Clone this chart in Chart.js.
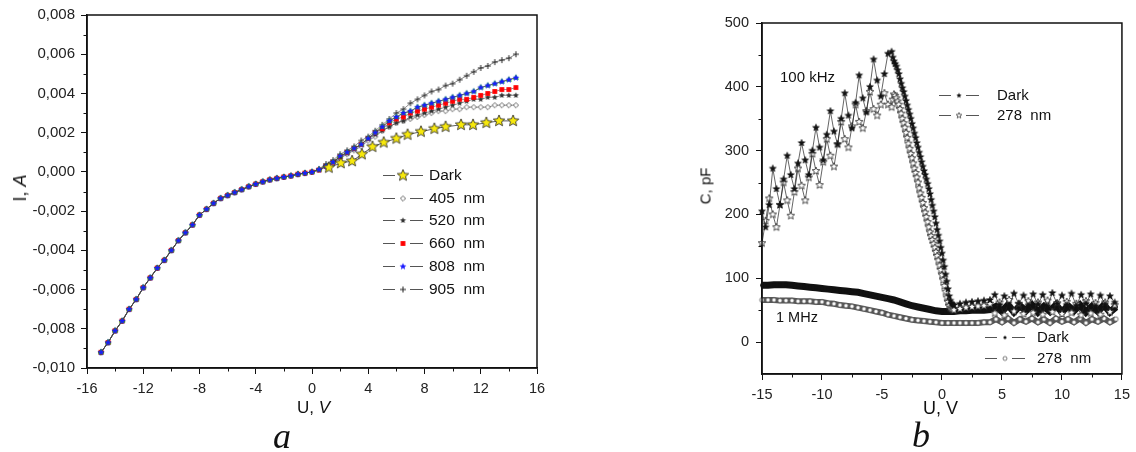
<!DOCTYPE html>
<html>
<head>
<meta charset="utf-8">
<script src="https://cdn.jsdelivr.net/npm/chart.js@4.4.1/dist/chart.umd.min.js"></script>
<style>
html, body { margin: 0; padding: 0; background: #fff; }
body { width: 1136px; height: 452px; position: relative; overflow: hidden; font-family: "Liberation Sans", Arial, sans-serif; }
.box { position: absolute; top: 0; height: 452px; }
.lbl { position: absolute; color: #111; white-space: nowrap; line-height: 1; }
.r { transform: translate(-50%, -50%) rotate(-90deg); }
.fig { font: italic 36px "Liberation Serif", "DejaVu Serif", serif; line-height: 36px; }
</style>
</head>
<body>
<div class="box" style="left:0;width:560px"><canvas id="chartA"></canvas></div>
<div class="box" style="left:690px;width:446px"><canvas id="chartB"></canvas></div>

<div class="lbl r" style="left:20px;top:188px;font-size:18px">I, <i>A</i></div>
<div class="lbl" style="left:297px;top:399px;font-size:17px">U, <i>V</i></div>
<div class="lbl fig" style="left:273px;top:418px">a</div>

<div class="lbl r" style="left:705px;top:186px;font-size:15px">C, pF</div>
<div class="lbl" style="left:923px;top:399px;font-size:18px">U, V</div>
<div class="lbl fig" style="left:912px;top:417px">b</div>
<div class="lbl" style="left:780px;top:69px;font-size:15px">100 kHz</div>
<div class="lbl" style="left:776px;top:310px;font-size:14.5px">1 MHz</div>

<script>
Chart.defaults.font.family = '"Liberation Sans", Arial, sans-serif';
Chart.defaults.color = '#222';

// ---- a: I-V curves ----
const uNeg = [-15, -14.5, -14, -13.5, -13, -12.5, -12, -11.5, -11, -10.5, -10, -9.5, -9, -8.5, -8, -7.5, -7, -6.5, -6, -5.5, -5, -4.5, -4, -3.5, -3, -2.5, -2, -1.5, -1, -0.5];
const uPos = [0, 0.5, 1, 1.5, 2, 2.5, 3, 3.5, 4, 4.5, 5, 5.5, 6, 6.5, 7, 7.5, 8, 8.5, 9, 9.5, 10, 10.5, 11, 11.5, 12, 12.5, 13, 13.5, 14, 14.5];
// all curves coincide in reverse bias
const iNeg = [-0.0092, -0.0087, -0.0081, -0.0076, -0.0070, -0.0065, -0.0059, -0.0054, -0.0049, -0.0045, -0.0040, -0.0035, -0.0031, -0.0027, -0.0022, -0.0019, -0.0016, -0.00135, -0.0012, -0.00105, -0.0009, -0.00075, -0.00062, -0.0005, -0.0004, -0.00033, -0.00026, -0.0002, -0.00012, -0.00006];
const i405 = [0, 0.0001, 0.00025, 0.00045, 0.0007, 0.0009, 0.0011, 0.0013, 0.0016, 0.0018, 0.0021, 0.0023, 0.0025, 0.0026, 0.0027, 0.0028, 0.0029, 0.0030, 0.0031, 0.0031, 0.0032, 0.0032, 0.0033, 0.0033, 0.0033, 0.0033, 0.0034, 0.0034, 0.0034, 0.0034];
const i520 = [0, 0.0001, 0.00028, 0.0005, 0.00075, 0.00095, 0.00115, 0.0014, 0.0017, 0.0019, 0.0021, 0.0023, 0.0025, 0.0026, 0.0028, 0.0029, 0.0030, 0.0031, 0.0032, 0.0033, 0.0034, 0.0035, 0.0036, 0.0037, 0.0037, 0.0038, 0.0038, 0.0039, 0.0039, 0.0039];
const i660 = [0, 0.0001, 0.0003, 0.0005, 0.00078, 0.001, 0.0012, 0.0014, 0.0017, 0.002, 0.0022, 0.0025, 0.0027, 0.0028, 0.0030, 0.0031, 0.0032, 0.0033, 0.0034, 0.0035, 0.0036, 0.0037, 0.0037, 0.0038, 0.0039, 0.0040, 0.0041, 0.0042, 0.0042, 0.0043];
const i808 = [0, 0.00012, 0.0003, 0.0005, 0.0008, 0.001, 0.0012, 0.0014, 0.0017, 0.002, 0.0023, 0.0026, 0.0028, 0.003, 0.0031, 0.0033, 0.0034, 0.0035, 0.0036, 0.0037, 0.0038, 0.0039, 0.004, 0.0041, 0.0043, 0.0044, 0.0045, 0.0046, 0.0047, 0.0048];
const i905 = [0, 0.00015, 0.0004, 0.0006, 0.0009, 0.0011, 0.0013, 0.0016, 0.0018, 0.0021, 0.0024, 0.0027, 0.003, 0.0032, 0.0035, 0.0037, 0.0039, 0.0041, 0.0042, 0.0044, 0.0045, 0.0047, 0.0049, 0.0051, 0.0053, 0.0054, 0.0056, 0.0057, 0.0058, 0.006];
const uDark = [1.2, 2.05, 2.85, 3.55, 4.3, 5.1, 6.0, 6.8, 7.75, 8.7, 9.5, 10.6, 11.45, 12.4, 13.3, 14.3];
const iDark = [0.00022, 0.00045, 0.00055, 0.0009, 0.00128, 0.0015, 0.0017, 0.0019, 0.00205, 0.0022, 0.0023, 0.0024, 0.0024, 0.0025, 0.0026, 0.0026];
const xTicksA = [-16, -12, -8, -4, 0, 4, 8, 12, 16];
const xMinorA = [-14, -10, -6, -2, 2, 6, 10, 14];
const yTicksA = [-0.010, -0.008, -0.006, -0.004, -0.002, 0, 0.002, 0.004, 0.006, 0.008];
const yMinorA = [-0.009, -0.007, -0.005, -0.003, -0.001, 0.001, 0.003, 0.005, 0.007];

// ---- b: C-V curves ----
const uHf = [-15.0, -14.7, -14.4, -14.1, -13.8, -13.5, -13.2, -12.9, -12.6, -12.3, -12.0, -11.7, -11.4, -11.1, -10.8, -10.5, -10.2, -9.9, -9.6, -9.3, -9.0, -8.7, -8.4, -8.1, -7.8, -7.5, -7.2, -6.9, -6.6, -6.3, -6.0, -5.7, -5.4, -5.1, -4.8, -4.5, -4.2,
  -4.1, -4.0, -3.9, -3.8, -3.7, -3.6, -3.5, -3.4, -3.3, -3.2, -3.1, -3.0,
  -2.9, -2.8, -2.7, -2.6, -2.5, -2.4, -2.3, -2.2, -2.1, -2.0,
  -1.9, -1.8, -1.7, -1.6, -1.5, -1.4, -1.3, -1.2, -1.1, -1.0,
  -0.9, -0.8, -0.7, -0.6, -0.5, -0.4, -0.3, -0.2, -0.1, 0,
  0.1, 0.2, 0.3, 0.4, 0.5, 0.6, 0.7, 0.8, 0.9, 1.0,
  1.5, 2.0, 2.5, 3.0, 3.5, 4.0,
  4.4, 4.8, 5.2, 5.6, 6.0, 6.4, 6.8, 7.2, 7.6, 8.0, 8.4, 8.8, 9.2, 9.6, 10.0, 10.4, 10.8, 11.2, 11.6, 12.0, 12.4, 12.8, 13.2, 13.6, 14.0, 14.4];
const cHfDark = [205, 180, 215, 272, 240, 215, 255, 292, 262, 240, 280, 312, 285, 262, 300, 336, 305, 285, 325, 362, 330, 310, 350, 390, 355, 335, 375, 418, 382, 360, 400, 443, 410, 385, 420, 452, 455,
  446, 440, 436, 432, 426, 420, 412, 405, 398, 392, 385, 378,
  371, 364, 357, 350, 342, 335, 327, 320, 312, 305,
  297, 290, 282, 275, 268, 262, 255, 248, 240, 232,
  223, 214, 205, 196, 186, 176, 167, 158, 148, 139,
  128, 118, 106, 95, 83, 72, 65, 60, 59, 58,
  60, 62, 63, 64, 65, 66,
  74, 58, 72, 56, 76, 60, 73, 57, 75, 59, 74, 56, 77, 60, 73, 58, 76, 57, 74, 60, 75, 56, 73, 59, 72, 62];
const cHf278 = [155, 190, 225, 200, 180, 215, 250, 222, 198, 235, 272, 245, 222, 258, 295, 268, 246, 282, 318, 292, 275, 310, 345, 318, 305, 338, 372, 345, 335, 362, 392, 365, 355, 372, 390, 372, 368,
  380, 388, 386, 382, 377, 372, 365, 358, 350, 343, 336, 328,
  320, 311, 303, 295, 288, 280, 272, 265, 258, 250,
  241, 233, 226, 218, 210, 203, 196, 188, 180, 172,
  166, 160, 154, 148, 141, 135, 128, 120, 113, 105,
  97, 88, 79, 70, 63, 57, 54, 52, 51, 50,
  52, 54, 55, 56, 57, 60,
  45, 62, 42, 66, 48, 60, 44, 64, 46, 62, 43, 65, 47, 61, 44, 63, 46, 60, 42, 64, 45, 61, 43, 62, 47, 58];
const uLf = [-15, -14.5, -14, -13.5, -13, -12.5, -12, -11.5, -11, -10.5, -10, -9.5, -9, -8.5, -8, -7.5, -7, -6.5, -6, -5.5, -5, -4.5, -4, -3.5, -3, -2.5, -2, -1.5, -1, -0.5,
  0, 0.5, 1, 1.5, 2, 2.5, 3, 3.5, 4, 4.5, 5, 5.5, 6, 6.5, 7, 7.5, 8, 8.5, 9, 9.5, 10, 10.5, 11, 11.5, 12, 12.5, 13, 13.5, 14, 14.5];
const cLfDark = [89, 89, 90, 90, 90, 89, 88, 87, 86, 85, 84, 83, 82, 81, 80, 79, 78, 76, 74, 72, 70, 68, 66, 63, 60, 57, 55, 53, 51, 49,
  48, 48, 48, 49, 49, 50, 50, 50, 51, 56, 48, 58, 47, 57, 49, 58, 47, 56, 48, 58, 47, 57, 49, 58, 47, 56, 48, 58, 47, 55];
const cLf278 = [66, 66, 66, 65, 65, 65, 64, 64, 64, 63, 63, 61, 60, 58, 57, 56, 54, 52, 50, 48, 46, 43, 41, 39, 37, 35, 34, 33, 32, 31,
  30, 30, 30, 30, 30, 30, 30, 31, 31, 36, 31, 37, 30, 36, 32, 37, 31, 36, 30, 37, 32, 36, 31, 37, 30, 36, 32, 37, 31, 36];
const xTicksB = [-15, -10, -5, 0, 5, 10, 15];
const xMinorB = [-12.5, -7.5, -2.5, 2.5, 7.5, 12.5];
const yTicksB = [0, 100, 200, 300, 400, 500];
const yMinorB = [50, 150, 250, 350, 450];

// marker images (5-point stars etc. are not built into Chart.js)
function mark(shape, r, fill, stroke, lw) {
  const s = Math.ceil(2 * r + 4), c = document.createElement('canvas');
  c.width = c.height = s;
  const g = c.getContext('2d'), m = s / 2;
  g.beginPath();
  if (shape === 'star') {
    for (let k = 0; k < 10; k++) {
      const a = -Math.PI / 2 + k * Math.PI / 5, rr = k % 2 ? r * 0.45 : r;
      g.lineTo(m + rr * Math.cos(a), m + rr * Math.sin(a));
    }
    g.closePath();
  } else if (shape === 'diamond') {
    g.moveTo(m, m - r); g.lineTo(m + r, m); g.lineTo(m, m + r); g.lineTo(m - r, m); g.closePath();
  } else if (shape === 'square') {
    g.rect(m - r, m - r, 2 * r, 2 * r);
  } else if (shape === 'triangle') {
    g.moveTo(m, m - r); g.lineTo(m + r * 0.87, m + r * 0.5); g.lineTo(m - r * 0.87, m + r * 0.5); g.closePath();
  } else if (shape === 'circle') {
    g.arc(m, m, r, 0, Math.PI * 2);
  } else if (shape === 'cross') {
    g.moveTo(m - r, m); g.lineTo(m + r, m); g.moveTo(m, m - r); g.lineTo(m, m + r);
  }
  if (fill) { g.fillStyle = fill; g.fill(); }
  if (stroke) { g.strokeStyle = stroke; g.lineWidth = lw || 1; g.stroke(); }
  return c;
}

const mk = {
  dark: mark('star', 6, '#f7e80c', '#222', 0.8),
  d405: mark('diamond', 2.6, '#fff', '#444', 0.8),
  s520: mark('star', 3.2, '#333', null),
  q660: mark('square', 2.4, '#f00', null),
  s808: mark('star', 3.6, '#1a1aff', null),
  tri: mark('triangle', 3.6, '#22c022', null),
  x905: mark('cross', 3, null, '#222', 1),
  hfDark: mark('star', 3.6, '#111', '#111', 0.6),
  hf278: mark('star', 4, '#fff', '#222', 0.8),
  lfDark: mark('circle', 2, '#111', null),
  lf278: mark('circle', 2.2, '#fff', '#333', 0.7)
};

const pts = (xs, ys) => xs.map((x, i) => ({ x: x, y: ys[i] }));

function ds(label, xs, ys, m, color, width) {
  return {
    label: label,
    data: pts(xs, ys),
    pointStyle: m,
    pointRadius: m.width / 2,
    borderColor: color,
    borderWidth: width,
    tension: 0,
    clip: false
  };
}

function axis(min, max, ticks, fmt, size, pad, fit) {
  return {
    type: 'linear',
    min: min,
    max: max,
    afterBuildTicks: s => { s.ticks = ticks.map(v => ({ value: v })); },
    afterFit: fit,
    ticks: { callback: fmt, font: { size: size }, color: '#222', padding: pad, maxRotation: 0, autoSkip: false },
    grid: { drawOnChartArea: false, drawTicks: true, tickLength: 6, color: '#111', lineWidth: 1 },
    border: { color: '#111', width: 1.5 }
  };
}

// box round the plot + minor ticks
const framePlugin = {
  id: 'frame',
  afterDraw(chart, args, o) {
    const { ctx, chartArea: a, scales } = chart;
    ctx.save();
    ctx.strokeStyle = '#111';
    ctx.lineWidth = 1.5;
    ctx.strokeRect(a.left, a.top, a.right - a.left, a.bottom - a.top);
    ctx.lineWidth = 1;
    ctx.beginPath();
    o.xMinor.forEach(v => {
      const px = Math.round(scales.x.getPixelForValue(v)) + 0.5;
      ctx.moveTo(px, a.bottom); ctx.lineTo(px, a.bottom + 3.5);
    });
    o.yMinor.forEach(v => {
      const py = Math.round(scales.y.getPixelForValue(v)) + 0.5;
      ctx.moveTo(a.left, py); ctx.lineTo(a.left - 3.5, py);
    });
    ctx.stroke();
    ctx.restore();
  }
};

// legend placed inside the plot like the original
const keyPlugin = {
  id: 'keyBox',
  afterDraw(chart, args, o) {
    const ctx = chart.ctx;
    ctx.save();
    ctx.font = o.font + 'px "Liberation Sans", Arial, sans-serif';
    ctx.textBaseline = 'middle';
    o.items.forEach((it, i) => {
      const y = Math.round(o.top + i * o.gap) + 0.5;
      const x = o.left;
      ctx.strokeStyle = '#555';
      ctx.lineWidth = 1;
      ctx.beginPath();
      ctx.moveTo(x, y); ctx.lineTo(x + 12, y);
      ctx.moveTo(x + 27, y); ctx.lineTo(x + 40, y);
      ctx.stroke();
      ctx.drawImage(it.m, x + 20 - it.m.width / 2, y - it.m.height / 2);
      ctx.fillStyle = '#111';
      ctx.fillText(it.text, x + o.textDx, y);
    });
    ctx.restore();
  }
};

new Chart(document.getElementById('chartA'), {
  type: 'line',
  data: {
    datasets: [
      ds('Dark', uDark, iDark, mk.dark, '#333', 0.8),
      ds('808 nm', uNeg.concat(uPos), iNeg.concat(i808), mk.s808, '#444', 0.6),
      ds('808 nm (2)', uNeg.concat(uPos), iNeg.concat(i808), mk.tri, '#444', 0.6),
      ds('905 nm', uNeg.concat(uPos), iNeg.concat(i905), mk.x905, '#444', 0.6),
      ds('660 nm', uNeg.concat(uPos), iNeg.concat(i660), mk.q660, '#444', 0.6),
      ds('520 nm', uNeg.concat(uPos), iNeg.concat(i520), mk.s520, '#444', 0.6),
      ds('405 nm', uNeg.concat(uPos), iNeg.concat(i405), mk.d405, '#444', 0.6)
    ]
  },
  options: {
    responsive: true,
    maintainAspectRatio: false,
    animation: false,
    devicePixelRatio: 1,
    events: [],
    layout: { padding: { left: 0, right: 23, top: 15, bottom: 0 } },
    scales: {
      x: axis(-16, 16, xTicksA, v => String(v), 14.5, 6, s => { s.height = 84; }),
      y: axis(-0.010, 0.008, yTicksA, v => v.toFixed(3).replace('.', ','), 15, 6, s => { s.width = 87; })
    },
    plugins: {
      legend: { display: false },
      tooltip: { enabled: false },
      frame: { xMinor: xMinorA, yMinor: yMinorA },
      keyBox: {
        left: 383, top: 175, gap: 22.7, textDx: 46, font: 15.5,
        items: [
          { text: 'Dark', m: mk.dark },
          { text: '405  nm', m: mk.d405 },
          { text: '520  nm', m: mk.s520 },
          { text: '660  nm', m: mk.q660 },
          { text: '808  nm', m: mk.s808 },
          { text: '905  nm', m: mk.x905 }
        ]
      }
    }
  },
  plugins: [framePlugin, keyPlugin]
});

new Chart(document.getElementById('chartB'), {
  type: 'line',
  data: {
    datasets: [
      ds('Dark 100 kHz', uHf, cHfDark, mk.hfDark, '#222', 0.7),
      ds('278 nm 100 kHz', uHf, cHf278, mk.hf278, '#222', 0.7),
      ds('Dark 1 MHz', uLf, cLfDark, mk.lfDark, '#111', 7),
      ds('278 nm 1 MHz', uLf, cLf278, mk.lf278, '#555', 6)
    ]
  },
  options: {
    responsive: true,
    maintainAspectRatio: false,
    animation: false,
    devicePixelRatio: 1,
    events: [],
    layout: { padding: { left: 0, right: 11, top: 23, bottom: 0 } },
    scales: {
      x: axis(-15, 15, xTicksB, v => String(v), 14.5, 6, s => { s.height = 78; }),
      y: axis(-50, 500, yTicksB, v => String(v), 14.5, 7, s => { s.width = 72; })
    },
    plugins: {
      legend: { display: false },
      tooltip: { enabled: false },
      frame: { xMinor: xMinorB, yMinor: yMinorB },
      keyBox: {
        left: 249, top: 95, gap: 20, textDx: 58, font: 15,
        items: [
          { text: 'Dark', m: mark('star', 2.8, '#111', null) },
          { text: '278  nm', m: mark('star', 3, '#fff', '#222', 0.7) }
        ]
      }
    }
  },
  plugins: [framePlugin, keyPlugin, {
    id: 'lowKey',
    afterDraw(chart) {
      // second legend for the 1 MHz pair
      keyPlugin.afterDraw(chart, null, {
        left: 295, top: 337, gap: 21, textDx: 52, font: 15,
        items: [
          { text: 'Dark', m: mark('circle', 1.6, '#111', null) },
          { text: '278  nm', m: mark('circle', 2, '#fff', '#444', 0.7) }
        ]
      });
    }
  }]
});
</script>
</body>
</html>
